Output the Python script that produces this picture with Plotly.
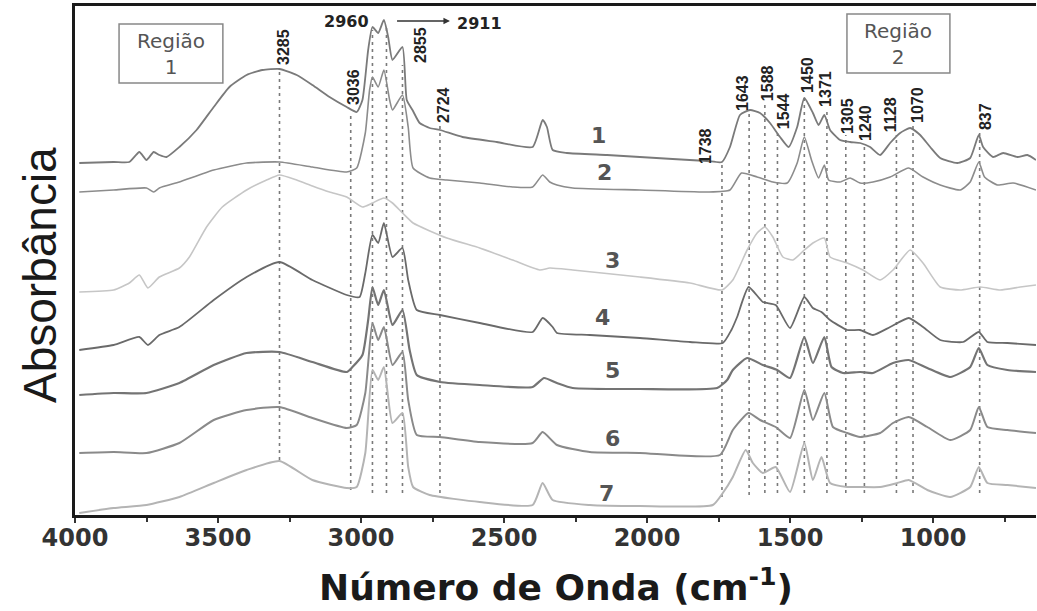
import plotly.graph_objects as go

# ---------------- data ----------------
wn1 = [3985, 3865, 3810, 3775, 3750, 3725, 3705, 3680, 3635, 3575, 3515, 3460, 3400, 3345, 3285, 3225, 3170, 3110,
       3050, 3015, 2995, 2975, 2960, 2940, 2920, 2905, 2890, 2855, 2840, 2820, 2795, 2760, 2724, 2645, 2525, 2400,
       2365, 2350, 2330, 2280, 2140, 2025, 1910, 1790, 1738, 1710, 1675, 1640, 1605, 1570, 1535, 1505, 1475, 1450,
       1420, 1400, 1380, 1360, 1325, 1290, 1255, 1220, 1185, 1150, 1115, 1080, 1045, 1010, 975, 915, 870, 840, 825,
       790, 755, 705, 670, 640]
ab1 = [3.52, 3.53, 3.53, 3.63, 3.55, 3.63, 3.60, 3.58, 3.68, 3.85, 4.08, 4.28, 4.40, 4.45, 4.46, 4.40, 4.30, 4.18,
       4.08, 4.03, 4.15, 4.65, 4.88, 4.82, 4.95, 4.78, 4.55, 4.68, 4.15, 4.05, 3.92, 3.87, 3.85, 3.78, 3.73, 3.68,
       3.95, 3.88, 3.65, 3.62, 3.60, 3.58, 3.56, 3.54, 3.53, 3.68, 4.00, 4.05, 4.02, 3.92, 3.78, 3.68, 3.88, 4.17,
       4.02, 3.90, 4.00, 3.85, 3.75, 3.73, 3.72, 3.68, 3.60, 3.72, 3.82, 3.87, 3.80, 3.68, 3.57, 3.52, 3.57, 3.80,
       3.68, 3.58, 3.62, 3.58, 3.60, 3.55]

wn2 = [3985, 3865, 3750, 3725, 3705, 3635, 3515, 3400, 3285, 3170, 3050, 3015, 2985, 2970, 2960, 2940, 2920, 2900,
       2890, 2855, 2835, 2818, 2760, 2700, 2585, 2470, 2400, 2365, 2340, 2315, 2260, 2025, 1790, 1710, 1670, 1615,
       1560, 1510, 1475, 1450, 1425, 1400, 1380, 1365, 1325, 1290, 1255, 1210, 1150, 1085, 1035, 975, 905, 870,
       840, 820, 775, 720, 640]
ab2 = [3.23, 3.25, 3.27, 3.23, 3.27, 3.33, 3.45, 3.52, 3.53, 3.48, 3.43, 3.47, 3.82, 4.25, 4.38, 4.28, 4.45, 4.15,
       4.05, 4.20, 3.88, 3.47, 3.37, 3.35, 3.32, 3.28, 3.28, 3.40, 3.33, 3.30, 3.27, 3.25, 3.23, 3.25, 3.42, 3.38,
       3.33, 3.32, 3.52, 3.78, 3.55, 3.37, 3.50, 3.35, 3.33, 3.37, 3.32, 3.33, 3.38, 3.47, 3.38, 3.30, 3.25, 3.33,
       3.53, 3.38, 3.30, 3.32, 3.25]

wn3 = [3985, 3865, 3810, 3775, 3745, 3705, 3635, 3600, 3540, 3485, 3400, 3330, 3285, 3225, 3170, 3110, 3050, 2995,
       2960, 2920, 2890, 2855, 2818, 2700, 2585, 2470, 2375, 2340, 2260, 2025, 1850, 1738, 1700, 1650, 1615, 1588,
       1560, 1525, 1490, 1450, 1420, 1380, 1360, 1300, 1245, 1185, 1140, 1080, 1035, 975, 905, 835, 765, 695, 640]
ab3 = [2.23, 2.25, 2.32, 2.40, 2.27, 2.38, 2.47, 2.58, 2.88, 3.08, 3.25, 3.35, 3.40, 3.35, 3.29, 3.23, 3.18, 3.08,
       3.12, 3.17, 3.12, 3.02, 2.92, 2.77, 2.67, 2.55, 2.45, 2.47, 2.45, 2.38, 2.32, 2.25, 2.35, 2.65, 2.82, 2.88,
       2.78, 2.58, 2.55, 2.65, 2.72, 2.77, 2.58, 2.52, 2.45, 2.35, 2.45, 2.65, 2.52, 2.28, 2.25, 2.28, 2.25, 2.28, 2.30]

wn4 = [3985, 3865, 3775, 3745, 3705, 3635, 3515, 3400, 3285, 3170, 3050, 3005, 2985, 2960, 2940, 2920, 2890, 2855,
       2835, 2805, 2724, 2585, 2400, 2365, 2330, 2315, 2200, 2025, 1850, 1735, 1705, 1685, 1645, 1595, 1550, 1500,
       1450, 1420, 1390, 1360, 1300, 1255, 1210, 1150, 1085, 1035, 975, 895, 840, 810, 740, 640]
ab4 = [1.65, 1.70, 1.78, 1.70, 1.80, 1.88, 2.15, 2.38, 2.53, 2.35, 2.20, 2.18, 2.42, 2.80, 2.72, 2.92, 2.58, 2.67,
       2.35, 2.05, 2.00, 1.92, 1.83, 1.97, 1.88, 1.82, 1.80, 1.77, 1.73, 1.72, 1.85, 1.98, 2.28, 2.13, 2.10, 1.87,
       2.18, 2.07, 2.03, 1.95, 1.85, 1.85, 1.80, 1.88, 1.97, 1.88, 1.75, 1.73, 1.83, 1.73, 1.72, 1.70]

wn5 = [3985, 3865, 3750, 3635, 3515, 3400, 3285, 3170, 3050, 3030, 2995, 2975, 2960, 2940, 2920, 2890, 2855, 2830,
       2805, 2724, 2585, 2400, 2360, 2315, 2260, 2025, 1755, 1720, 1700, 1650, 1595, 1545, 1500, 1450, 1420, 1380,
       1355, 1315, 1255, 1210, 1140, 1085, 1020, 940, 870, 840, 810, 740, 640]
ab5 = [1.20, 1.22, 1.22, 1.32, 1.50, 1.62, 1.63, 1.53, 1.43, 1.48, 1.60, 1.95, 2.28, 2.10, 2.25, 1.90, 2.05, 1.65,
       1.40, 1.33, 1.30, 1.28, 1.37, 1.32, 1.27, 1.26, 1.27, 1.35, 1.45, 1.57, 1.50, 1.45, 1.37, 1.78, 1.52, 1.78,
       1.48, 1.42, 1.43, 1.42, 1.52, 1.55, 1.47, 1.38, 1.48, 1.67, 1.50, 1.45, 1.43]

wn6 = [3985, 3865, 3750, 3635, 3515, 3400, 3285, 3170, 3050, 3015, 2985, 2960, 2940, 2920, 2890, 2855, 2835, 2805,
       2724, 2585, 2400, 2365, 2315, 2200, 2025, 1745, 1700, 1645, 1605, 1550, 1500, 1450, 1420, 1380, 1350, 1300,
       1255, 1185, 1140, 1085, 1020, 940, 870, 840, 810, 740, 640]
ab6 = [0.62, 0.63, 0.62, 0.72, 0.95, 1.05, 1.08, 0.97, 0.87, 0.90, 1.22, 1.92, 1.75, 1.88, 1.50, 1.63, 1.15, 0.80,
       0.78, 0.73, 0.72, 0.83, 0.70, 0.63, 0.62, 0.60, 0.85, 1.02, 0.95, 0.88, 0.77, 1.25, 0.95, 1.22, 0.88, 0.82,
       0.78, 0.82, 0.92, 0.98, 0.88, 0.75, 0.85, 1.08, 0.88, 0.85, 0.82]

wn7 = [3985, 3865, 3750, 3635, 3515, 3400, 3285, 3170, 3050, 3015, 2985, 2960, 2940, 2920, 2890, 2855, 2835, 2818,
       2760, 2585, 2400, 2365, 2330, 2200, 2025, 1770, 1735, 1700, 1655, 1630, 1595, 1550, 1500, 1450, 1420, 1390,
       1360, 1300, 1255, 1185, 1125, 1085, 1020, 940, 870, 840, 810, 740, 640]
ab7 = [0.02, 0.07, 0.10, 0.18, 0.32, 0.45, 0.54, 0.35, 0.27, 0.28, 0.62, 1.45, 1.35, 1.48, 0.92, 1.02, 0.48, 0.28,
       0.20, 0.13, 0.10, 0.32, 0.15, 0.10, 0.09, 0.10, 0.22, 0.38, 0.65, 0.52, 0.42, 0.48, 0.23, 0.72, 0.35, 0.58,
       0.32, 0.28, 0.28, 0.28, 0.32, 0.35, 0.25, 0.18, 0.28, 0.48, 0.32, 0.30, 0.27]

curve_names = ["1", "2", "3", "4", "5", "6", "7"]

peak_wn = [3285, 3036, 2960, 2911, 2855, 2724, 1738, 1643, 1588, 1544, 1450, 1371, 1305, 1240, 1128, 1070, 837]
rotated_labels = ["3285", "3036", "2855", "2724", "1738", "1643", "1588", "1544", "1450", "1371",
                  "1305", "1240", "1128", "1070", "837"]
x_tick_vals = [4000, 3500, 3000, 2500, 2000, 1500, 1000]
x_tick_text = ["4000", "3500", "3000", "2500", "2000", "1500", "1000"]

# ---------------- styles / positions ----------------
series = [(wn1, ab1), (wn2, ab2), (wn3, ab3), (wn4, ab4), (wn5, ab5), (wn6, ab6), (wn7, ab7)]
colors = ["#7a7a7a", "#8c8c8c", "#c6c6c6", "#6a6a6a", "#747474", "#8a8a8a", "#b4b4b4"]
widths = [1.8, 1.6, 1.6, 1.8, 2.2, 2.0, 2.0]

line_top = [4.45, 4.03, 4.85, 4.90, 4.50, 3.90, 3.50, 4.03, 4.13, 3.85, 4.20, 4.07, 3.80, 3.72, 3.80, 3.90, 3.82]
line_bot = [0.55, 0.25, 0.22, 0.22, 0.22, 0.22, 0.18, 0.20, 0.22, 0.22, 0.22, 0.22, 0.22, 0.22, 0.22, 0.22, 0.22]

rot_x = [3273, 3028, 2794, 2713, 1797, 1668, 1580, 1524, 1441, 1378, 1301, 1238, 1150, 1056, 818]
rot_y = [4.68, 4.28, 4.70, 4.10, 3.69, 4.22, 4.32, 4.04, 4.40, 4.26, 3.99, 3.92, 4.00, 4.10, 3.98]

name_x = [2171, 2147, 2122, 2154, 2122, 2119, 2140]
name_y = [3.80, 3.43, 2.55, 1.98, 1.45, 0.77, 0.22]

fig = go.Figure()
for (wn, ab), c, w in zip(series, colors, widths):
    fig.add_trace(go.Scatter(x=wn, y=ab, mode="lines", showlegend=False, hoverinfo="skip",
                             line=dict(color=c, width=w, shape="spline", smoothing=0.5)))

shapes = []
for wv, t, b in zip(peak_wn, line_top, line_bot):
    shapes.append(dict(type="line", xref="x", yref="y", x0=wv, x1=wv, y0=b, y1=t,
                       line=dict(color="#7a7a7a", width=1.6, dash="3px,4px"), layer="below"))
# region boxes
shapes.append(dict(type="rect", xref="x", yref="y", x0=3846, x1=3483, y0=4.32, y1=4.91,
                   line=dict(color="#888888", width=1.5)))
shapes.append(dict(type="rect", xref="x", yref="y", x0=1301, x1=941, y0=4.42, y1=5.01,
                   line=dict(color="#888888", width=1.5)))

ann = []
for t, x, y in zip(rotated_labels, rot_x, rot_y):
    ann.append(dict(x=x, y=y, xref="x", yref="y", text=t, showarrow=False, textangle=-90,
                    font=dict(family="Liberation Sans", size=16, color="#222222", weight="bold")))
ann.append(dict(x=3052, y=4.94, xref="x", yref="y", text="2960", showarrow=False,
                font=dict(family="DejaVu Sans", size=16, color="#222222", weight="bold")))
ann.append(dict(x=2587, y=4.92, xref="x", yref="y", text="2911", showarrow=False,
                font=dict(family="DejaVu Sans", size=16, color="#222222", weight="bold")))
ann.append(dict(x=2689, y=4.94, xref="x", yref="y", ax=2881, ay=4.94, axref="x", ayref="y", text=" ",
                showarrow=True, arrowhead=2, arrowsize=1, arrowwidth=1.3, arrowcolor="#333333",
                font=dict(size=2)))
for t, x, y in zip(curve_names, name_x, name_y):
    ann.append(dict(x=x, y=y, xref="x", yref="y", text=t, showarrow=False,
                    font=dict(family="DejaVu Sans", size=22, color="#555555", weight="bold")))
ann.append(dict(x=3664, y=4.615, xref="x", yref="y", text="Região<br>1", showarrow=False,
                font=dict(family="DejaVu Sans", size=20, color="#555555")))
ann.append(dict(x=1122, y=4.715, xref="x", yref="y", text="Região<br>2", showarrow=False,
                font=dict(family="DejaVu Sans", size=20, color="#555555")))
ann.append(dict(x=0.5, y=-0.138, xref="paper", yref="paper", text="Número de Onda (cm<sup>-1</sup>)",
                showarrow=False, yanchor="middle",
                font=dict(family="DejaVu Sans", size=36, color="#1a1a1a", weight="bold")))
ann.append(dict(x=-0.0364, y=0.4715, xref="paper", yref="paper", text="Absorbância", textangle=-90,
                showarrow=False, xanchor="center", yanchor="middle",
                font=dict(family="Liberation Sans", size=46, color="#1a1a1a")))

fig.update_layout(
    width=1037, height=611,
    margin=dict(l=75, r=1, t=6, b=96),
    paper_bgcolor="white", plot_bgcolor="white",
    shapes=shapes, annotations=ann, showlegend=False,
    xaxis=dict(range=[4000, 640], tickmode="array", tickvals=x_tick_vals, ticktext=x_tick_text,
               showline=True, linewidth=3, linecolor="#1a1a1a", mirror=True,
               ticks="outside", ticklen=5, tickwidth=2, tickcolor="#333333",
               minor=dict(tickmode="linear", tick0=0, dtick=250, ticks="outside", ticklen=4,
                          tickwidth=2, tickcolor="#333333"),
               ticklabelstandoff=-6,
               tickfont=dict(family="DejaVu Sans", size=24, color="#333333", weight="bold"),
               showgrid=False, zeroline=False),
    yaxis=dict(range=[0, 5.09], showline=True, linewidth=2.5, linecolor="#1a1a1a",
               showticklabels=False, ticks="", showgrid=False, zeroline=False),
)

fig.write_html("out.html", config={"displayModeBar": False},
               post_script="document.body.style.margin='0';document.body.style.overflow='hidden';")
